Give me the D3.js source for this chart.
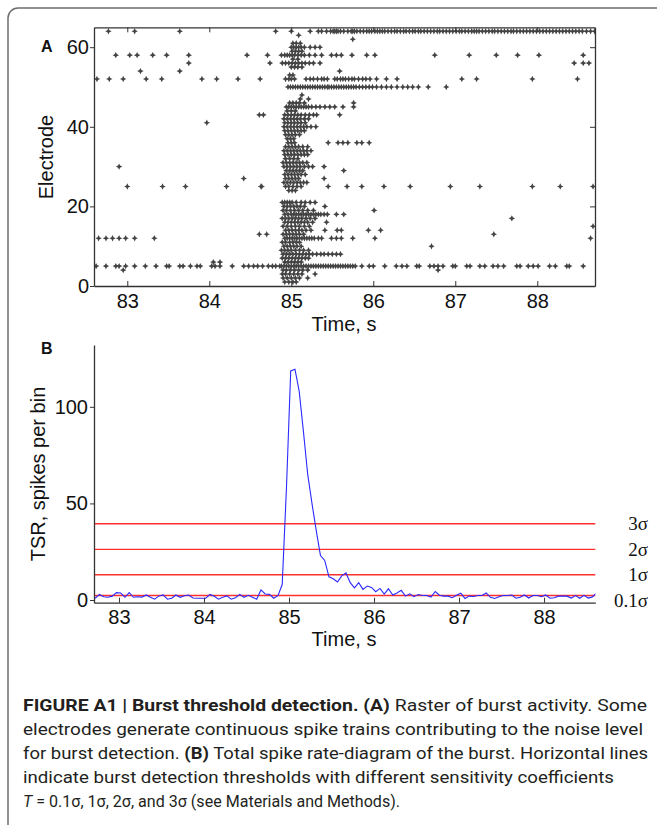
<!DOCTYPE html>
<html><head><meta charset="utf-8">
<script src="https://cdn.jsdelivr.net/npm/d3@7"></script>
<style>body{margin:0;background:#fff}svg{display:block}</style>
</head><body>
<svg id="c" width="657" height="825"></svg>
<script>
// ---------------- DATA ----------------
// Panel A raster: rows are [electrode, spike times (s)...]
const sparseSpikes = [
  [64, 82.77, 83.09, 83.64, 84.81],
  [63, 85.09],
  [62, 85.75],
  [58, 82.86, 83.03, 83.12, 83.31, 83.48, 83.75, 84.46, 84.71, 85.37, 85.49, 85.55, 85.61, 85.74, 85.92, 86.02, 86.75, 87.17, 87.50, 87.76, 88.02, 88.56],
  [56, 83.75, 84.74, 88.45, 88.56, 88.63],
  [54, 83.16, 83.64, 85.59],
  [52, 82.63, 82.78, 82.95, 83.23, 83.42, 83.91, 84.09, 84.35, 84.62, 86.16, 86.29, 87.08, 87.26, 87.94, 88.49],
  [46, 85.76],
  [45, 85.63, 85.76],
  [43, 84.61, 84.66, 85.59],
  [41, 83.97],
  [36, 85.45, 85.57, 85.63, 85.69, 85.80, 85.86, 85.95],
  [30, 82.90, 85.40],
  [29, 85.64],
  [27, 84.42, 85.40],
  [25, 83.00, 83.43, 83.71, 84.21, 84.63, 85.45, 85.68, 85.86, 86.13, 86.45, 86.94, 87.30, 87.94, 88.28, 88.68],
  [20, 85.41],
  [19, 86.01],
  [18, 85.55, 85.64],
  [17, 87.69],
  [16, 85.43],
  [15, 88.68],
  [14, 85.41, 85.56, 85.61, 85.94, 86.09],
  [13, 84.61, 84.70, 87.47],
  [12, 82.65, 82.74, 82.82, 82.90, 82.98, 83.09, 83.33, 85.37, 85.49, 85.55, 85.61, 85.75, 86.02, 88.65],
  [10, 86.71],
  [6, 84.05, 84.13],
  [5, 82.62, 82.74, 82.86, 82.90, 82.98, 83.09, 83.22, 83.35, 83.48, 83.51, 83.64, 83.68, 83.77, 83.85, 83.89, 84.03, 84.07, 84.13, 84.28, 84.42, 84.48, 84.54, 84.59, 84.65, 84.72, 84.77, 84.81, 84.86,
      85.86, 85.95, 86.00, 86.14, 86.28, 86.35, 86.41, 86.53, 86.56, 86.69, 86.74, 86.79, 86.85, 86.97, 87.00, 87.14, 87.18, 87.30, 87.36, 87.46, 87.52, 87.59, 87.75, 87.79, 87.89, 87.95, 88.01, 88.15, 88.22, 88.36, 88.39, 88.56],
  [4, 82.95, 86.79]
];
const burstSpikes = [
  [1, 84.92, 84.97, 85.02, 85.06],
  [2, 84.90, 84.95, 85.00, 85.05, 85.10, 85.20],
  [3, 84.89, 84.93, 84.98, 85.03, 85.08, 85.13, 85.29],
  [4, 84.90, 84.94, 84.99, 85.04, 85.09, 85.14, 85.20],
  [6, 84.92, 84.96, 85.00, 85.04, 85.08, 85.12],
  [7, 84.89, 84.93, 84.97, 85.01, 85.05, 85.09, 85.13, 85.17, 85.21],
  [8, 84.90, 84.94, 84.98, 85.02, 85.06, 85.10, 85.14, 85.18, 85.22, 85.26, 85.31, 85.36, 85.40, 85.45, 85.50, 85.55, 85.60],
  [9, 84.88, 84.92, 84.96, 85.00, 85.05, 85.10, 85.15, 85.21],
  [10, 84.91, 84.95, 84.99, 85.03, 85.07, 85.12],
  [11, 84.89, 84.93, 84.98, 85.02, 85.06, 85.10],
  [12, 84.92, 84.95, 84.98, 85.01, 85.04, 85.07, 85.10, 85.13, 85.16, 85.19, 85.22, 85.25, 85.28, 85.33],
  [13, 84.90, 84.94, 84.98, 85.02, 85.06, 85.10, 85.15],
  [14, 84.93, 84.97, 85.01, 85.05, 85.09, 85.13, 85.18, 85.24],
  [15, 84.90, 84.95, 85.00, 85.05, 85.10, 85.16, 85.22],
  [16, 84.92, 84.96, 85.00, 85.04, 85.08, 85.12, 85.16, 85.20, 85.26],
  [17, 84.89, 84.93, 84.97, 85.01, 85.05, 85.09, 85.13, 85.18, 85.23, 85.29],
  [18, 84.92, 84.96, 85.00, 85.03, 85.06, 85.09, 85.12, 85.15, 85.18, 85.21, 85.24, 85.27, 85.30, 85.33, 85.36, 85.40, 85.44],
  [19, 84.90, 84.94, 84.99, 85.04, 85.09, 85.14, 85.20, 85.27],
  [20, 84.91, 84.95, 84.99, 85.03, 85.07, 85.11, 85.16],
  [21, 84.89, 84.92, 84.95, 84.98, 85.01, 85.06, 85.12, 85.17, 85.23, 85.29],
  [24, 84.97, 85.01, 85.05],
  [25, 84.64, 84.93, 84.97, 85.02, 85.07, 85.12],
  [26, 84.91, 84.95, 84.99, 85.03, 85.07, 85.11, 85.15, 85.19],
  [27, 84.93, 84.97, 85.01, 85.05, 85.09],
  [28, 84.92, 84.96, 85.00, 85.04, 85.08, 85.12, 85.17],
  [29, 84.94, 84.98, 85.02, 85.06, 85.10, 85.14],
  [30, 84.91, 84.95, 84.99, 85.03, 85.07, 85.11, 85.16, 85.21, 85.26],
  [31, 84.90, 84.94, 84.98, 85.02, 85.06, 85.10, 85.14, 85.19],
  [32, 84.93, 84.98, 85.03, 85.08],
  [33, 84.92, 84.96, 85.00, 85.04, 85.08, 85.12, 85.16, 85.20],
  [34, 84.91, 84.95, 84.99, 85.03, 85.07, 85.11, 85.15, 85.19, 85.24],
  [35, 84.93, 84.97, 85.01, 85.05, 85.09, 85.14, 85.20],
  [36, 84.96, 85.00, 85.04],
  [37, 84.95, 84.99, 85.03],
  [38, 84.93, 84.97, 85.01, 85.05, 85.10],
  [39, 84.92, 84.96, 85.00, 85.04, 85.08, 85.12, 85.16],
  [40, 84.91, 84.95, 84.99, 85.03, 85.07, 85.11, 85.15, 85.19, 85.24, 85.30],
  [41, 84.92, 84.96, 85.00, 85.04, 85.08, 85.12, 85.17],
  [42, 84.91, 84.95, 84.99, 85.03, 85.07, 85.11, 85.16, 85.21],
  [43, 84.92, 84.96, 85.00, 85.04, 85.08, 85.12, 85.17, 85.22, 85.27, 85.31],
  [44, 84.95, 85.00, 85.05],
  [45, 84.94, 84.97, 85.00, 85.03, 85.06, 85.09, 85.12, 85.15, 85.18, 85.21, 85.25, 85.30, 85.35, 85.41, 85.47, 85.53],
  [46, 84.98, 85.02, 85.06, 85.10, 85.16],
  [47, 85.11, 85.21],
  [48, 85.13],
  [52, 84.93, 84.97, 85.00, 85.04, 85.18, 85.23, 85.27, 85.32, 85.37, 85.40, 85.44, 85.53, 85.56, 85.60, 85.63, 85.66, 85.70, 85.74, 85.77, 85.82, 85.87, 85.91, 85.96, 86.04],
  [53, 84.98, 85.02],
  [55, 85.00, 85.04, 85.08, 85.13],
  [56, 84.89, 84.93, 84.97, 85.01, 85.05, 85.09, 85.13, 85.17, 85.22, 85.27, 85.35],
  [57, 85.02, 85.08],
  [58, 84.88, 84.92, 84.95, 84.98, 85.01, 85.04, 85.08, 85.12, 85.16, 85.22, 85.29],
  [59, 85.01, 85.05, 85.09, 85.13],
  [60, 85.00, 85.03, 85.06, 85.09, 85.12, 85.16, 85.23, 85.29, 85.35],
  [61, 85.02, 85.06, 85.11]
];
const denseTrains = [
  [64, 85.00, 85.23, 85.33, 85.37, 85.43, 85.48, 85.51, 85.53, 85.55, 85.57, 85.60, 85.64, 85.69, 85.73, 85.75, 85.77, 85.80, 85.84, 85.88, 85.92, 85.95, 85.98, 86.02, 86.05, 86.08, 86.11, 86.14, 86.18, 86.22, 86.26, 86.29, 86.33, 86.37, 86.40, 86.44, 86.48, 86.51, 86.55, 86.58, 86.62, 86.66, 86.70, 86.74, 86.78, 86.81, 86.85, 86.89, 86.93, 86.97, 87.01, 87.05, 87.08, 87.12, 87.16, 87.20, 87.23, 87.26, 87.29, 87.33, 87.37, 87.41, 87.45, 87.48, 87.52, 87.56, 87.60, 87.64, 87.68, 87.71, 87.75, 87.79, 87.83, 87.87, 87.91, 87.95, 87.99, 88.03, 88.07, 88.11, 88.15, 88.19, 88.23, 88.27, 88.31, 88.35, 88.39, 88.43, 88.47, 88.51, 88.55, 88.60, 88.65, 88.70],
  [50, 84.96, 84.99, 85.02, 85.05, 85.08, 85.11, 85.14, 85.17, 85.20, 85.23, 85.26, 85.29, 85.32, 85.35, 85.38, 85.41, 85.44, 85.46, 85.49, 85.52, 85.55, 85.58, 85.61, 85.64, 85.67, 85.70, 85.73, 85.76, 85.79, 85.83, 85.87, 85.91, 85.95, 85.99, 86.04, 86.10, 86.16, 86.22, 86.29, 86.36, 86.42, 86.48, 86.55, 86.67, 86.89],
  [5, 84.88, 84.91, 84.94, 84.97, 85.00, 85.03, 85.06, 85.09, 85.12, 85.15, 85.18, 85.21, 85.24, 85.27, 85.30, 85.33, 85.36, 85.39, 85.42, 85.45, 85.48, 85.51, 85.54, 85.57, 85.60, 85.63, 85.66, 85.69, 85.72, 85.75, 85.78]
];
const tickTimes = [83, 84, 85, 86, 87, 88];
const electrodeTicks = [0, 20, 40, 60];

// Panel B: total spike rate, 50 ms bins starting at 82.72 s
const tsrStart = 82.72, tsrBin = 0.05;
const tsrValues = [0.9, 2.9, 1.7, 1.4, 2.0, 3.8, 3.6, 1.4, 3.8, 1.4, 1.7, 1.5, 2.6, 1.4, 0.4, 2.1, 2.6, 0.4, 0.9, 2.6,
  1.4, 2.2, 2.6, 1.0, 0.9, 0.9, 0.9, 2.9, 1.9, 0.4, 1.4, 2.1, 0.4, 1.2, 2.9, 1.4, 2.4, 1.4, 0.4, 5.2,
  3.1, 2.9, 0.9, 2.2, 8.0, 58, 118.6, 119.5, 108, 87, 65, 50, 36, 23, 20.5, 12, 11, 9.3, 12.5, 14.0,
  9.0, 6.3, 9.0, 5.5, 7.2, 6.5, 4.3, 6.0, 3.1, 5.8, 2.6, 3.6, 5.0, 2.0, 3.2, 1.7, 2.8, 2.3, 2.3, 1.5,
  4.4, 2.5, 2.0, 2.0, 1.2, 2.5, 3.5, 0.8, 2.0, 1.8, 2.3, 2.3, 3.6, 1.4, 0.8, 1.7, 2.3, 2.3, 2.6, 0.9,
  1.4, 2.6, 1.0, 2.3, 2.3, 1.7, 2.6, 0.9, 1.2, 2.0, 2.0, 2.0, 1.0, 2.3, 0.9, 2.4, 1.0, 1.6, 3.8];
const thresholdValues = [39.5, 26.2, 13.1, 2.3];
const thresholdLabels = ["3σ", "2σ", "1σ", "0.1σ"];
const tsrTicks = [0, 50, 100];

const captionLines = [
  [["FIGURE A1 | Burst threshold detection. (A)", "b"], [" Raster of burst activity. Some", "n"]],
  [["electrodes generate continuous spike trains contributing to the noise level", "n"]],
  [["for burst detection. ", "n"], ["(B)", "b"], [" Total spike rate-diagram of the burst. Horizontal lines", "n"]],
  [["indicate burst detection thresholds with different sensitivity coefficients", "n"]],
  [["T", "i"], [" = 0.1σ, 1σ, 2σ, and 3σ (see Materials and Methods).", "n"]]
];

// ---------------- DRAW ----------------
const svg = d3.select("#c");
const SANS = "'Liberation Sans', Arial, sans-serif";

svg.append("rect").attr("x", 8).attr("y", 8).attr("width", 720).attr("height", 900)
  .attr("rx", 10).attr("fill", "none").attr("stroke", "#6e6e6e").attr("stroke-width", 1.5);

// ----- Panel A -----
const xA = d3.scaleLinear().domain([82.594, 88.704]).range([94, 595]);
const yA = d3.scaleLinear().domain([0, 65]).range([286, 27.3]);

const pts = [];
[sparseSpikes, burstSpikes, denseTrains].forEach(group => group.forEach(row => {
  row.slice(1).forEach(t => pts.push([t, row[0]]));
}));
const star = "M0,-3.2L1.05,-1.05L3.2,0L1.05,1.05L0,3.2L-1.05,1.05L-3.2,0L-1.05,-1.05Z";
svg.append("defs").append("clipPath").attr("id", "clipA").append("rect")
  .attr("x", 94).attr("y", 27.3).attr("width", 501).attr("height", 258.7);
svg.append("g").attr("clip-path", "url(#clipA)")
  .selectAll("path").data(pts).join("path")
  .attr("d", star)
  .attr("transform", d => `translate(${xA(d[0])},${yA(d[1])})`)
  .attr("fill", "#444");

const axA = svg.append("g").attr("font-family", SANS);
const gxA = axA.append("g").attr("transform", "translate(0,286)")
  .call(d3.axisBottom(xA).tickValues(tickTimes).tickFormat(d3.format("d")).tickSize(-5).tickSizeOuter(0).tickPadding(8));
const gtA = axA.append("g").attr("transform", "translate(0,27.3)")
  .call(d3.axisTop(xA).tickValues(tickTimes).tickFormat("").tickSize(-5).tickSizeOuter(0));
const gyA = axA.append("g").attr("transform", "translate(94,0)")
  .call(d3.axisLeft(yA).tickValues(electrodeTicks).tickSize(4).tickSizeOuter(0).tickPadding(1));
const grA = axA.append("g").attr("transform", "translate(595,0)")
  .call(d3.axisRight(yA).tickValues(electrodeTicks).tickFormat("").tickSize(-5).tickSizeOuter(0));
[gxA, gtA, gyA, grA].forEach(g => {
  g.selectAll("text").attr("font-size", 20).attr("fill", "#111");
  g.selectAll("line").attr("stroke", "#333");
  g.select(".domain").attr("stroke", "#333").attr("stroke-width", 1.3);
});

svg.append("text").attr("x", 344).attr("y", 331).attr("text-anchor", "middle")
  .attr("font-family", SANS).attr("font-size", 20).attr("fill", "#111").text("Time, s");
svg.append("text").attr("transform", "translate(53,157) rotate(-90)").attr("text-anchor", "middle")
  .attr("font-family", SANS).attr("font-size", 20).attr("fill", "#111").text("Electrode");
svg.append("text").attr("x", 41).attr("y", 51.5).attr("font-family", SANS)
  .attr("font-weight", "bold").attr("font-size", 16).attr("fill", "#111").text("A");

// ----- Panel B -----
const xB = d3.scaleLinear().domain([82.706, 88.603]).range([94, 595.3]);
const yB = d3.scaleLinear().domain([-1.4, 132]).range([602.7, 345]);

svg.select("defs").append("clipPath").attr("id", "clipB").append("rect")
  .attr("x", 94).attr("y", 345).attr("width", 501.3).attr("height", 257.7);

svg.append("g").selectAll("line").data(thresholdValues).join("line")
  .attr("x1", xB.range()[0]).attr("x2", xB.range()[1])
  .attr("y1", d => yB(d)).attr("y2", d => yB(d))
  .attr("stroke", "#ff2f2f").attr("stroke-width", 1.4);

const line = d3.line().x((d, i) => xB(tsrStart + i * tsrBin)).y(d => yB(d));
svg.append("path").datum(tsrValues).attr("clip-path", "url(#clipB)")
  .attr("d", line).attr("fill", "none").attr("stroke", "#2a2aff").attr("stroke-width", 1.1);

svg.append("g").selectAll("text").data(thresholdLabels).join("text")
  .attr("x", 648).attr("y", (d, i) => yB(thresholdValues[i]) + (i === 3 ? 11.5 : 6.2))
  .attr("text-anchor", "end").attr("font-family", "'Liberation Serif', 'Times New Roman', serif")
  .attr("font-size", 19).attr("fill", "#111").text(d => d);

const gxB = svg.append("g").attr("transform", "translate(0,602.7)").attr("font-family", SANS)
  .call(d3.axisBottom(xB).tickValues(tickTimes).tickFormat(d3.format("d")).tickSize(-5).tickSizeOuter(0).tickPadding(7));
const gyB = svg.append("g").attr("transform", "translate(94,0)").attr("font-family", SANS)
  .call(d3.axisLeft(yB).tickValues(tsrTicks).tickSize(4).tickSizeOuter(0).tickPadding(2));
[gxB, gyB].forEach(g => {
  g.selectAll("text").attr("font-size", 20).attr("fill", "#111");
  g.selectAll("line").attr("stroke", "#333");
  g.select(".domain").attr("stroke", "#333").attr("stroke-width", 1.3);
});

svg.append("text").attr("x", 344).attr("y", 646).attr("text-anchor", "middle")
  .attr("font-family", SANS).attr("font-size", 20).attr("fill", "#111").text("Time, s");
svg.append("text").attr("transform", "translate(45,474) rotate(-90)").attr("text-anchor", "middle")
  .attr("font-family", SANS).attr("font-size", 20).attr("fill", "#111").text("TSR, spikes per bin");
svg.append("text").attr("x", 41).attr("y", 354).attr("font-family", SANS)
  .attr("font-weight", "bold").attr("font-size", 16).attr("fill", "#111").text("B");

// ----- Caption -----
const capWidths = [624, 620, 625, 591, 377];
const cap = svg.append("g").attr("font-family", "'Liberation Sans Narrow', 'Roboto', sans-serif")
  .attr("font-size", 17).attr("fill", "#231f20");
captionLines.forEach((segs, i) => {
  const t = cap.append("text").attr("x", 23).attr("y", 711 + i * 24)
    .attr("textLength", capWidths[i]).attr("lengthAdjust", "spacingAndGlyphs");
  segs.forEach(([s, st]) => {
    t.append("tspan").text(s)
      .attr("font-weight", st === "b" ? "bold" : null)
      .attr("font-style", st === "i" ? "italic" : null);
  });
});
</script>
</body></html>
